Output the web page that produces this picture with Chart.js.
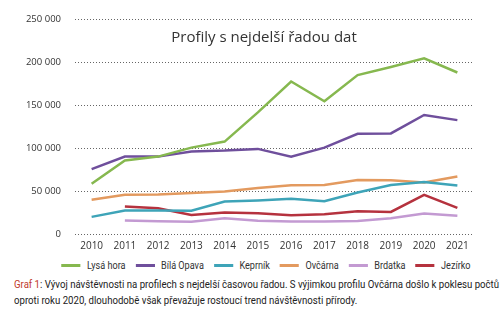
<!DOCTYPE html>
<html lang="cs">
<head>
  <meta charset="UTF-8" />
  <title>Profily s nejdelší řadou dat</title>
  <script src="https://cdn.jsdelivr.net/npm/chart.js"></script>
  <style>
    body { margin: 0; background: #fff; font-family: 'Open Sans', sans-serif; }
    .wrap { width: 500px; height: 321px; position: relative; overflow: hidden; }
    #chart-box { width: 500px; height: 254px; }
    .legend {
      display: flex; justify-content: center; align-items: center; white-space: nowrap;
      width: 500px; margin-left: 16px; height: 22px; font-family: 'Roboto', sans-serif;
      font-size: 10px; color: #333;
      transform: scaleX(0.91); transform-origin: center;
    }
    .legend span.item { display: flex; align-items: center; margin-right: 11px; }
    .legend span.item:last-child { margin-right: 0; }
    .legend i { display: inline-block; width: 21px; height: 3px; margin-right: 7px; }
    .caption {
      margin: 1px 0 0 14px; width: 558px; font-family: 'Roboto', sans-serif;
      font-size: 11px; line-height: 16px; color: #222;
      transform: scaleX(0.875); transform-origin: left top;
    }
    .caption b { font-weight: normal; color: #c0392b; }
  </style>
</head>
<body>
<div class="wrap">
  <div id="chart-box"><canvas id="chart"></canvas></div>
  <div class="legend" id="legend"></div>
  <div class="caption"><b>Graf 1</b>: Vývoj návštěvnosti na profilech s nejdelší časovou řadou. S výjimkou profilu Ovčárna došlo k poklesu počtů oproti roku 2020, dlouhodobě však převažuje rostoucí trend návštěvnosti přírody.</div>
</div>

<script>
  const years = ['2010','2011','2012','2013','2014','2015','2016','2017','2018','2019','2020','2021'];
  const lysaHora = [59000, 86000, 90500, 101000, 108000, 142000, 178000, 155000, 185500, 195000, 205000, 188500];
  const bilaOpava = [76000, 90500, 90500, 96500, 97500, 99500, 90500, 101000, 117000, 117500, 139000, 133000];
  const keprnik = [20300, 27700, 27700, 27500, 38200, 39400, 41300, 38600, 48700, 57500, 61000, 56800];
  const ovcarna = [40200, 46000, 46500, 48200, 49800, 53800, 57200, 57500, 63300, 63000, 60400, 67300];
  const brdatka = [null, 16200, 15200, 14500, 18700, 15800, 14800, 14800, 15600, 18700, 24300, 21500];
  const jezirko = [null, 32500, 30400, 22600, 25300, 24500, 22200, 23400, 26800, 26100, 46000, 30800];
  const yTicks = [0, 50000, 100000, 150000, 200000, 250000];

  const fmt = v => String(v).replace(/\B(?=(\d{3})+(?!\d))/g, ' ');

  const series = [
    { label: 'Lysá hora', data: lysaHora, color: '#86b84f' },
    { label: 'Bílá Opava', data: bilaOpava, color: '#6f4f9c' },
    { label: 'Keprník', data: keprnik, color: '#3ea4b8' },
    { label: 'Ovčárna', data: ovcarna, color: '#e39a5f' },
    { label: 'Brdatka', data: brdatka, color: '#c39ad2' },
    { label: 'Jezírko', data: jezirko, color: '#b5323e' }
  ];

  // title sits inside the plot, over the gridlines
  const titleInside = {
    id: 'titleInside',
    afterDraw(chart) {
      const c = chart.ctx;
      c.save();
      c.font = '15px "Open Sans", sans-serif';
      c.fillStyle = '#333';
      c.textAlign = 'center';
      c.textBaseline = 'middle';
      c.fillText('Profily s nejdelší řadou dat', 264, 38);
      c.restore();
    }
  };

  const chart = new Chart(document.getElementById('chart'), {
    type: 'line',
    data: {
      labels: years,
      datasets: series.map(s => ({
        label: s.label,
        data: s.data,
        borderColor: s.color,
        backgroundColor: s.color,
        borderWidth: 2.5,
        pointRadius: 0,
        tension: 0,
        fill: false
      }))
    },
    options: {
      responsive: true,
      maintainAspectRatio: false,
      animation: false,
      layout: { padding: { top: 10, right: 26, left: 4 } },
      plugins: { legend: { display: false }, tooltip: { enabled: false } },
      scales: {
        x: {
          offset: true,
          grid: { display: false },
          border: { display: false },
          ticks: { color: '#333', font: { size: 10, family: 'Open Sans' }, padding: -2, maxRotation: 0 }
        },
        y: {
          min: 0,
          max: 250000,
          afterBuildTicks: axis => { axis.ticks = yTicks.map(v => ({ value: v })); },
          afterFit: axis => { axis.width = 71; },
          grid: { color: '#666', lineWidth: 1, drawTicks: false },
          border: { display: false, dash: [1, 2] },
          ticks: { color: '#333', font: { size: 9.5, family: 'Open Sans' }, padding: 14, callback: v => fmt(v) }
        }
      }
    },
    plugins: [titleInside]
  });

  const legend = document.getElementById('legend');
  chart.data.datasets.forEach(ds => {
    const item = document.createElement('span');
    item.className = 'item';
    item.innerHTML = '<i style="background:' + ds.borderColor + '"></i>' + ds.label;
    legend.appendChild(item);
  });
</script>
</body>
</html>
